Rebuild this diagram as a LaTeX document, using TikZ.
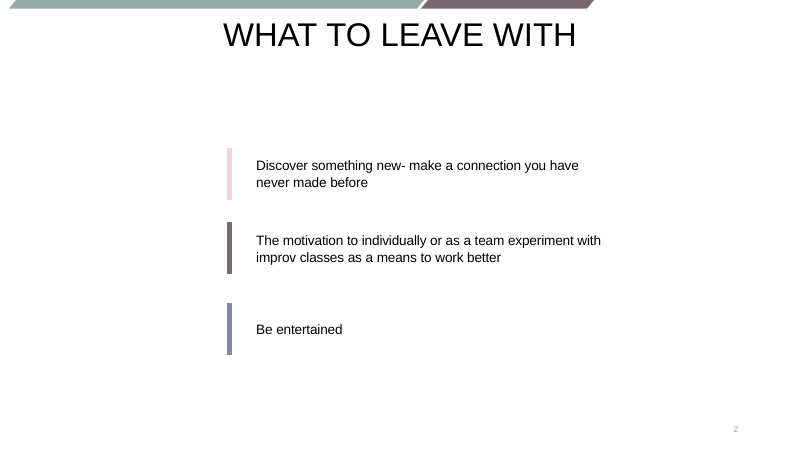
\documentclass[tikz,border=0pt]{standalone}
\usepackage{fontspec}
\setmainfont{Liberation Sans}
\definecolor{bargreen}{HTML}{95ABA5}
\definecolor{barpurple}{HTML}{786872}
\definecolor{markpink}{HTML}{EDD6E2}
\definecolor{markplum}{HTML}{786872}
\definecolor{markslate}{HTML}{7F8A9C}
\definecolor{pagegray}{HTML}{A0A0A0}
\begin{document}
\begin{tikzpicture}[x=1pt,y=-1pt,
  itemtext/.style={anchor=base west,inner sep=0pt,align=left,font=\fontsize{13.6}{16.5}\selectfont},
  marker/.style={inner sep=0pt,minimum width=5pt,minimum height=52pt,draw=none}]
\useasboundingbox (0,0) rectangle (800,450);
\fill[white] (0,0) rectangle (800,450);
% top bars
\fill[bargreen] (9,8.5) -- (16,0) -- (424,0) -- (417,8.5) -- cycle;
\fill[barpurple] (421,8.5) -- (428,0) -- (594,0) -- (587,8.5) -- cycle;
% title
\node[anchor=base,inner sep=0pt,font=\fontsize{32.8}{38}\selectfont] (title) at (400,46.7) {WHAT TO LEAVE WITH};
% markers
\node[marker,fill=markpink] (m1) at (229.5,173.5) {};
\node[marker,fill=markplum] (m2) at (229.5,248) {};
\node[marker,fill=markslate] (m3) at (229.5,328.5) {};
% texts (base anchor = baseline of last line)
\node[itemtext] (t1) at (256,187) {\addfontfeature{LetterSpace=-1.2}Discover something new- make a connection you have\\\addfontfeature{LetterSpace=-1.2}never made before};
\node[itemtext] (t2) at (256,262) {\addfontfeature{LetterSpace=-1.2}The motivation to individually or as a team experiment with\\\addfontfeature{LetterSpace=-1.2}improv classes as a means to work better};
\node[itemtext] (t3) at (256,334) {\addfontfeature{LetterSpace=-1.2}Be entertained};
% page number
\node[anchor=base,inner sep=0pt,font=\fontsize{8.5}{9}\selectfont,text=pagegray] (pg) at (736,432) {2};
\end{tikzpicture}
\end{document}
